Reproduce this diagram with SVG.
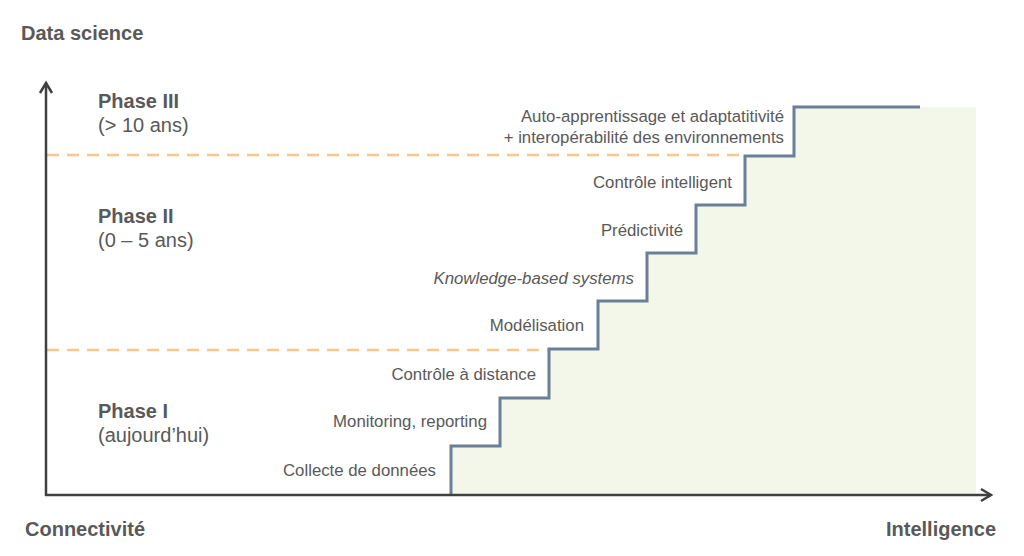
<svg xmlns="http://www.w3.org/2000/svg" width="1024" height="556" viewBox="0 0 1024 556">
<style>
text{font-family:"Liberation Sans",Arial,sans-serif;fill:#595959}
.b{font-weight:bold}
.ph{font-size:20px}
.lb{font-size:16.8px;text-anchor:end}
.dash{stroke:#f6c88c;stroke-width:2.5;stroke-dasharray:12 8;fill:none}
.axis{stroke:#404040;stroke-width:2.5;fill:none}
</style>
<rect width="1024" height="556" fill="#fff"/>
<g id="fill">
<path d="M451,495 V446 H500 V398 H549 V349 H598 V301 H647 V253 H696 V205 H745 V156 H794 V107 H976 V495 Z" fill="#f3f7ea"/>
</g>
<g id="connectors">
<line class="dash" x1="47" y1="155" x2="745" y2="155"/>
<line class="dash" x1="47" y1="350" x2="549" y2="350"/>
<path d="M451,495 V446 H500 V398 H549 V349 H598 V301 H647 V253 H696 V205 H745 V156 H794 V107 H920" fill="none" stroke="#6b7f96" stroke-width="3"/>
<path class="axis" d="M46,496 V83"/>
<path class="axis" d="M40,93 L46,83 L52,93"/>
<path class="axis" d="M45,495 H991"/>
<path class="axis" d="M981,489 L991,495 L981,501"/>
</g>
<g id="axis-labels">
<text class="b" x="21" y="40" font-size="20">Data science</text>
<text class="b" x="25" y="536" font-size="20">Connectivité</text>
<text class="b" x="996" y="536" font-size="20" text-anchor="end">Intelligence</text>
</g>
<g id="phase3"><text class="b ph" x="98" y="108">Phase III</text><text class="ph" x="98" y="132">(&gt; 10 ans)</text></g>
<g id="phase2"><text class="b ph" x="98" y="223">Phase II</text><text class="ph" x="98" y="247">(0 – 5 ans)</text></g>
<g id="phase1"><text class="b ph" x="98" y="418">Phase I</text><text class="ph" x="98" y="442">(aujourd’hui)</text></g>
<g id="step1"><text class="lb" x="436" y="476">Collecte de données</text></g>
<g id="step2"><text class="lb" x="487" y="427">Monitoring, reporting</text></g>
<g id="step3"><text class="lb" x="536" y="380">Contrôle à distance</text></g>
<g id="step4"><text class="lb" x="584" y="331">Modélisation</text></g>
<g id="step5"><text class="lb" x="634" y="284" font-style="italic">Knowledge-based systems</text></g>
<g id="step6"><text class="lb" x="683" y="236">Prédictivité</text></g>
<g id="step7"><text class="lb" x="732" y="188">Contrôle intelligent</text></g>
<g id="step8"><text class="lb" x="784" y="122">Auto-apprentissage et adaptatitivité</text><text class="lb" x="784" y="143">+ interopérabilité des environnements</text></g>
</svg>
